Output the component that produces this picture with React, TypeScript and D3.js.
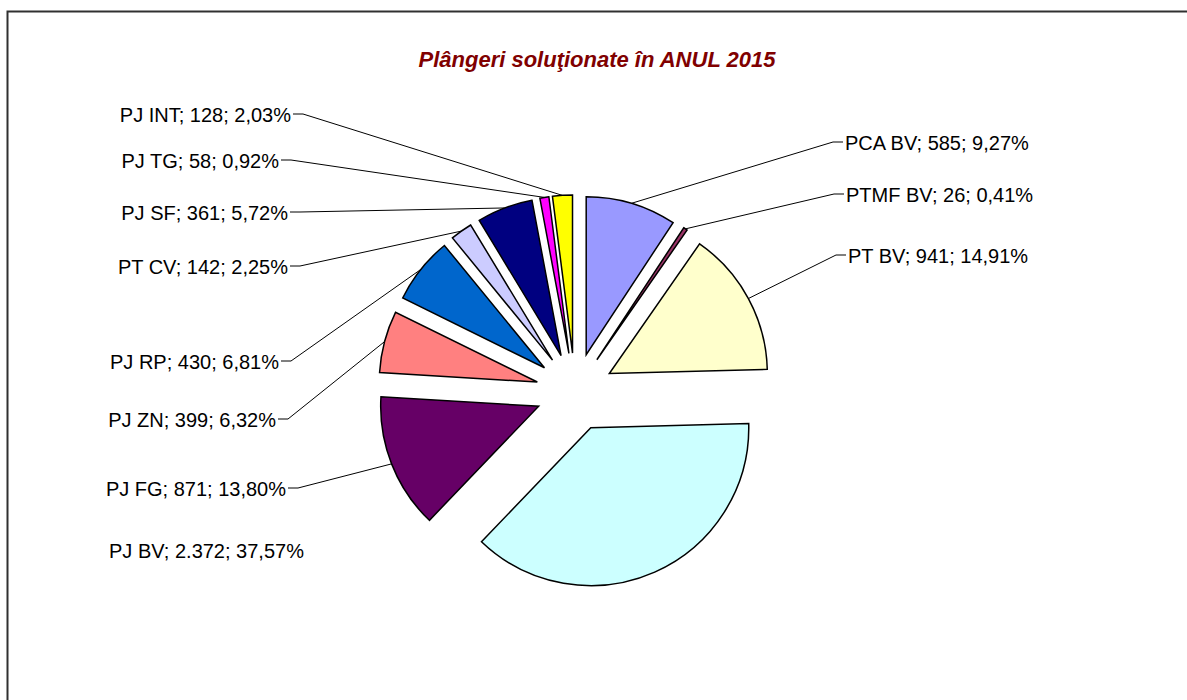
import React, { useEffect, useRef } from 'react';
import * as d3 from 'd3';

// data
const categories = ['PCA BV', 'PTMF BV', 'PT BV', 'PJ BV', 'PJ FG', 'PJ ZN', 'PJ RP', 'PT CV', 'PJ SF', 'PJ TG', 'PJ INT'];
const values = [585, 26, 941, 2372, 871, 399, 430, 142, 361, 58, 128];
const colors = ['#9999FF', '#993366', '#FFFFCC', '#CCFFFF', '#660066', '#FF8080', '#0066CC', '#CCCCFF', '#000080', '#FF00FF', '#FFFF00'];
const title = 'Plângeri soluţionate în ANUL 2015';

// label placement (text anchor point, side), same order as categories
const labelLayout = [
    { x: 845, y: 143, side: 'right', leader: true },
    { x: 846, y: 195, side: 'right', leader: true },
    { x: 848, y: 256, side: 'right', leader: true },
    { x: 109, y: 551, side: 'left-start', leader: false },
    { x: 286, y: 489, side: 'left', leader: true },
    { x: 276, y: 420, side: 'left', leader: true },
    { x: 279, y: 362, side: 'left', leader: true },
    { x: 288, y: 267, side: 'left', leader: true },
    { x: 288, y: 213, side: 'left', leader: true },
    { x: 279, y: 161, side: 'left', leader: true },
    { x: 291, y: 115, side: 'left', leader: true },
];

const App = () => {
    const chartRef = useRef();

    useEffect(() => {
        drawChart();
        // eslint-disable-next-line react-hooks/exhaustive-deps
    }, []);

    const drawChart = () => {
        d3.select(chartRef.current).selectAll('*').remove();

        const width = 1187;
        const height = 700;
        const cx = 575;
        const cy = 392;
        const radius = 158;
        const explode = 39;
        const font = 'Arial, "Liberation Sans", sans-serif';

        const svg = d3.select(chartRef.current)
            .append('svg')
            .attr('width', width)
            .attr('height', height)
            .style('position', 'absolute')
            .style('left', 0)
            .style('top', 0)
            .style('background', '#fff');

        // chart area border
        svg.append('rect')
            .attr('x', 7.5)
            .attr('y', 11.5)
            .attr('width', 1300)
            .attr('height', 900)
            .attr('fill', 'none')
            .attr('stroke', '#303030')
            .attr('stroke-width', 2);

        svg.append('text')
            .attr('x', 597)
            .attr('y', 67)
            .attr('text-anchor', 'middle')
            .attr('font-family', font)
            .attr('font-size', 22)
            .attr('font-weight', 'bold')
            .attr('font-style', 'italic')
            .attr('fill', '#800000')
            .text(title);

        const total = d3.sum(values);
        const data = categories.map((c, i) => ({ label: c, value: values[i], color: colors[i] }));

        const pie = d3.pie()
            .sort(null)
            .value(d => d.value);

        const arcs = pie(data);

        const arc = d3.arc()
            .innerRadius(0)
            .outerRadius(radius);

        const g = svg.append('g')
            .attr('transform', `translate(${cx}, ${cy})`);

        const offset = (d, dist) => {
            const mid = (d.startAngle + d.endAngle) / 2;
            return [dist * Math.sin(mid), -dist * Math.cos(mid)];
        };

        g.selectAll('path')
            .data(arcs)
            .enter()
            .append('path')
            .attr('d', arc)
            .attr('transform', d => {
                const [dx, dy] = offset(d, explode);
                return `translate(${dx}, ${dy})`;
            })
            .attr('fill', d => d.data.color)
            .attr('stroke', '#000')
            .attr('stroke-width', 1.5)
            .attr('stroke-linejoin', 'miter');

        const fmtValue = v => d3.format(',')(v).replace(/,/g, '.');
        const fmtPct = v => (v / total * 100).toFixed(2).replace('.', ',') + '%';

        // leader lines
        arcs.forEach((d, i) => {
            const lay = labelLayout[i];
            if (!lay.leader) return;
            const [ex, ey] = offset(d, explode);
            const [rx, ry] = offset(d, radius);
            const tx = cx + ex + rx;
            const ty = cy + ey + ry;
            const dir = lay.side === 'right' ? -1 : 1;
            const x0 = lay.x + dir * 2;
            const x1 = lay.x + dir * 12;
            svg.append('path')
                .attr('d', d3.line()([[x0, lay.y - 1], [x1, lay.y - 1], [tx, ty]]))
                .attr('fill', 'none')
                .attr('stroke', '#000')
                .attr('stroke-width', 1);
        });

        // labels
        arcs.forEach((d, i) => {
            const lay = labelLayout[i];
            svg.append('text')
                .attr('x', lay.x)
                .attr('y', lay.y)
                .attr('dy', '0.35em')
                .attr('text-anchor', lay.side === 'left' ? 'end' : 'start')
                .attr('font-family', font)
                .attr('font-size', 20)
                .attr('fill', '#000')
                .text(`${d.data.label}; ${fmtValue(d.data.value)}; ${fmtPct(d.data.value)}`);
        });
    };

    return (
        <div ref={chartRef}></div>
    );
};

export default App;
